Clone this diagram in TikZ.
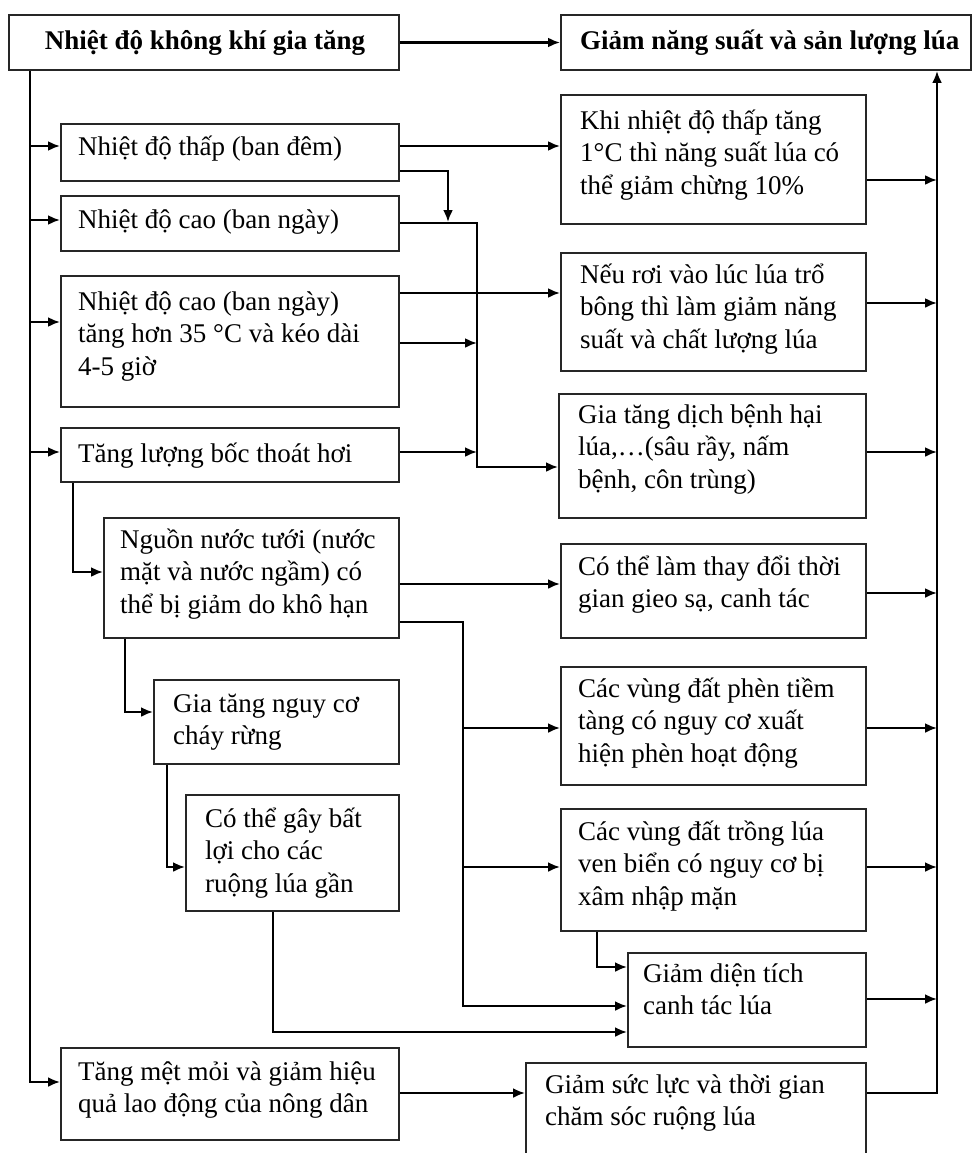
\documentclass[tikz,border=0pt]{standalone}
\usepackage{fontspec}
\setmainfont{Liberation Serif}
\usetikzlibrary{arrows.meta,calc}
\newcommand{\mybox}[5]{\node[box, minimum width=#4pt-#2pt, minimum height=#5pt-#3pt] (#1) at (#2,#3) {};}
\newcommand{\mytxt}[3]{\node[txt] at (#1,#2) {\begin{tabular}[t]{@{}l@{}}#3\end{tabular}};}
\begin{document}
\begin{tikzpicture}[x=1pt,y=-1pt,
  box/.style={draw=black!85, line width=2pt, fill=white, inner sep=0pt, anchor=north west},
  txt/.style={inner sep=0pt, anchor=base west, font=\fontsize{27}{32.5}\selectfont},
  ttl/.style={inner sep=0pt, anchor=base, font=\fontsize{27}{32.5}\selectfont\bfseries},
  conn/.style={line width=2.3pt, draw=black},
  arr/.style={conn, -{Latex[length=12pt,width=10pt]}}]
\fill[white] (0,0) rectangle (972,1153);
\useasboundingbox (0,0) rectangle (972,1153);
\clip (0,0) rectangle (972,1153);
% trunk coordinates
\coordinate (LT) at (30,0);
\coordinate (RT) at (937,0);
\coordinate (M1) at (477,0);
\coordinate (M2) at (463,0);
\coordinate (M3) at (448,0);
% boxes
\mybox{A}{8}{14}{398}{69}
\mybox{B}{560}{14}{970}{69}
\mybox{thap}{60}{123}{398}{180}
\mybox{cao}{60}{195}{398}{250}
\mybox{cao35}{60}{275}{398}{406}
\mybox{boc}{60}{427}{398}{481}
\mybox{nguon}{103}{517}{398}{637}
\mybox{chay}{153}{679}{398}{763}
\mybox{bat}{185}{794}{398}{910}
\mybox{mm}{60}{1047}{398}{1139}
\mybox{khi}{560}{94}{865}{223}
\mybox{neu}{560}{252}{865}{370}
\mybox{dich}{558}{393}{865}{517}
\mybox{cothe}{560}{543}{865}{637}
\mybox{phen}{560}{666}{865}{784}
\mybox{venbien}{560}{808}{865}{930}
\mybox{dientich}{627}{952}{865}{1046}
\mybox{sucluc}{525}{1062}{865}{1175}
% connectors
\draw[arr] (A.east) -- (B.west);
\draw[arr] (A.south -| LT) |- (mm.west |- 0,1082);
\draw[arr] (LT |- 0,146) -- (thap.west |- 0,146);
\draw[arr] (LT |- 0,220) -- (cao.west |- 0,220);
\draw[arr] (LT |- 0,322) -- (cao35.west |- 0,322);
\draw[arr] (LT |- 0,452) -- (boc.west |- 0,452);
\draw[arr] (thap.east |- 0,146) -- (khi.west |- 0,146);
\draw[arr] (thap.east |- 0,171) -| (M3 |- 0,222);
\draw[arr] (cao.east |- 0,223) -| (M1 |- 0,467) -- (dich.west |- 0,467);
\draw[arr] (cao35.east |- 0,293) -- (neu.west |- 0,293);
\draw[arr] (cao35.east |- 0,343) -- (M1 |- 0,343);
\draw[arr] (boc.east |- 0,452) -- (M1 |- 0,452);
\draw[arr] (boc.south -| 73,0) |- (nguon.west |- 0,572);
\draw[arr] (nguon.east |- 0,584) -- (cothe.west |- 0,584);
\draw[arr] (nguon.east |- 0,622) -| (M2 |- 0,1006) -- (dientich.west |- 0,1006);
\draw[arr] (M2 |- 0,728) -- (phen.west |- 0,728);
\draw[arr] (M2 |- 0,867) -- (venbien.west |- 0,867);
\draw[arr] (nguon.south -| 125,0) |- (chay.west |- 0,712);
\draw[arr] (chay.south -| 167,0) |- (bat.west |- 0,867);
\draw[arr] (bat.south -| 273,0) |- (dientich.west |- 0,1032);
\draw[arr] (venbien.south -| 597,0) |- (dientich.west |- 0,967);
\draw[arr] (mm.east |- 0,1093) -- (sucluc.west |- 0,1093);
\draw[arr] (sucluc.east |- 0,1093) -| (B.south -| RT);
\draw[arr] (khi.east |- 0,180) -- (RT |- 0,180);
\draw[arr] (neu.east |- 0,303) -- (RT |- 0,303);
\draw[arr] (dich.east |- 0,452) -- (RT |- 0,452);
\draw[arr] (cothe.east |- 0,593) -- (RT |- 0,593);
\draw[arr] (phen.east |- 0,728) -- (RT |- 0,728);
\draw[arr] (venbien.east |- 0,867) -- (RT |- 0,867);
\draw[arr] (dientich.east |- 0,999) -- (RT |- 0,999);
% texts
\node[ttl] at (205,50) {Nhiệt độ không khí gia tăng};
\node[ttl, anchor=base west] at (580,50) {Giảm năng suất và sản lượng lúa};
\mytxt{78}{155}{Nhiệt độ thấp (ban đêm)}
\mytxt{78}{228}{Nhiệt độ cao (ban ngày)}
\mytxt{78}{310}{Nhiệt độ cao (ban ngày)\\tăng hơn 35 °C và kéo dài\\4-5 giờ}
\mytxt{78}{462}{Tăng lượng bốc thoát hơi}
\mytxt{120}{548}{Nguồn nước tưới (nước\\mặt và nước ngầm)  có\\thể bị giảm  do khô hạn}
\mytxt{173}{712}{Gia tăng  nguy cơ\\cháy rừng}
\mytxt{205}{827}{Có thể gây bất\\lợi cho các\\ruộng lúa  gần}
\mytxt{78}{1080}{Tăng mệt mỏi và giảm  hiệu\\quả lao động của nông dân}
\mytxt{580}{129}{Khi nhiệt độ thấp tăng\\1°C thì  năng suất lúa có\\thể giảm  chừng 10\%}
\mytxt{580}{283}{Nếu rơi  vào lúc lúa trổ\\bông thì làm  giảm  năng\\suất và  chất lượng lúa}
\mytxt{578}{423}{Gia tăng  dịch  bệnh hại\\lúa,…(sâu rầy, nấm\\bệnh, côn  trùng)}
\mytxt{578}{575}{Có thể làm  thay đổi  thời\\gian gieo sạ, canh  tác}
\mytxt{578}{697}{Các vùng đất phèn  tiềm\\tàng có nguy cơ xuất\\hiện phèn hoạt động}
\mytxt{578}{840}{Các vùng đất trồng lúa\\ven biển  có nguy cơ bị\\xâm nhập mặn}
\mytxt{643}{982}{Giảm diện tích\\canh tác lúa}
\mytxt{545}{1093}{Giảm sức lực và  thời  gian\\chăm sóc ruộng lúa}
\end{tikzpicture}
\end{document}
